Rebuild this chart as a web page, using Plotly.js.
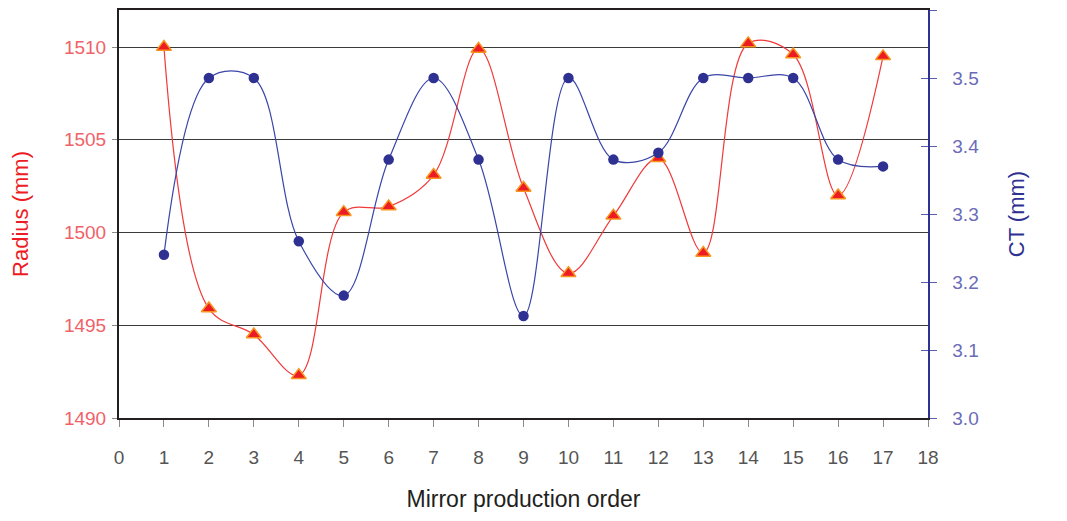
<!DOCTYPE html>
<html>
<head>
<meta charset="utf-8">
<script src="https://cdn.plot.ly/plotly-3.0.1.min.js"></script>
<style>
  html, body { margin: 0; padding: 0; background: #ffffff; }
  #chart { width: 1067px; height: 521px; }
</style>
</head>
<body>
<div id="chart"></div>
<script>
// Mirror production order (category positions)
const order = [1, 2, 3, 4, 5, 6, 7, 8, 9, 10, 11, 12, 13, 14, 15, 16, 17];
// Radius (mm) - left axis, red triangles
const radius = [1510.0, 1495.9, 1494.5, 1492.3, 1501.1, 1501.4, 1503.1, 1509.9, 1502.4,
                1497.8, 1500.9, 1504.0, 1498.9, 1510.2, 1509.6, 1502.0, 1509.5];
// CT (mm) - right axis, blue circles
const ct = [3.24, 3.50, 3.50, 3.26, 3.18, 3.38, 3.50, 3.38, 3.15,
            3.50, 3.38, 3.39, 3.50, 3.50, 3.50, 3.38, 3.37];

const xTitle = 'Mirror production order';
const yTitle = 'Radius (mm)';
const y2Title = 'CT (mm)';

const FONT = 'Liberation Sans, Arial, sans-serif';
const RED = '#ed1c24';
const NAVY = '#2e3192';

const traces = [
  {
    x: order, y: radius, type: 'scatter', mode: 'lines+markers', name: yTitle,
    line: { color: '#f03a3a', width: 1.2, shape: 'spline', smoothing: 1 },
    marker: { symbol: 'triangle-up', size: 13, color: RED, line: { color: '#f7941d', width: 1.5 } },
    yaxis: 'y', cliponaxis: false
  },
  {
    x: order, y: ct, type: 'scatter', mode: 'lines+markers', name: y2Title,
    line: { color: '#3a45a8', width: 1.2, shape: 'spline', smoothing: 1 },
    marker: { symbol: 'circle', size: 10.5, color: NAVY },
    yaxis: 'y2', cliponaxis: false
  },
  { x: [], y: [], type: 'scatter', yaxis: 'y3', showlegend: false, hoverinfo: 'skip' }
];

const layout = {
  width: 1067, height: 521,
  margin: { l: 119, r: 139, t: 10, b: 103 },
  paper_bgcolor: '#ffffff', plot_bgcolor: '#ffffff',
  showlegend: false,
  font: { family: FONT },
  xaxis: {
    range: [0, 18], tick0: 0, dtick: 1, tickmode: 'linear',
    ticks: 'outside', ticklen: 7, tickcolor: '#8a8a8a', tickwidth: 1,
    ticklabelstandoff: 14,
    tickfont: { family: FONT, size: 19, color: '#555555' },
    showline: true, linecolor: '#231f20', linewidth: 2, mirror: true,
    showgrid: false, zeroline: false,
    title: { text: xTitle, font: { family: FONT, size: 23, color: '#231f20' }, standoff: 24 }
  },
  yaxis: {
    range: [1490, 1512], tick0: 1490, dtick: 5, tickmode: 'linear',
    ticks: 'outside', ticklen: 5, tickcolor: '#8a8a8a', tickwidth: 1,
    ticklabelstandoff: 2,
    tickfont: { family: FONT, size: 19, color: '#f06268' },
    showline: true, linecolor: '#231f20', linewidth: 2,
    showgrid: true, gridcolor: '#3a3a3a', gridwidth: 1, zeroline: false,
    title: { text: yTitle, font: { family: FONT, size: 22, color: RED }, standoff: 29 }
  },
  yaxis2: {
    overlaying: 'y', side: 'right', anchor: 'x',
    range: [3.0, 3.6], tick0: 3.0, dtick: 0.1, tickmode: 'linear', tickformat: '.1f',
    ticks: 'outside', ticklen: 7, tickcolor: '#5a5db0', tickwidth: 1,
    ticklabelstandoff: 12,
    tickfont: { family: FONT, size: 19, color: '#6a6cb8' },
    showline: true, linecolor: NAVY, linewidth: 1.5,
    showgrid: false, zeroline: false,
    title: { text: y2Title, font: { family: FONT, size: 22, color: NAVY }, standoff: 30 }
  },
  yaxis3: {
    overlaying: 'y', side: 'right', anchor: 'x',
    range: [3.0, 3.6], tick0: 3.0, dtick: 0.1, tickmode: 'linear',
    ticks: 'inside', ticklen: 7, tickcolor: '#5a5db0', tickwidth: 1,
    showticklabels: false, showline: false, showgrid: false, zeroline: false
  }
};

Plotly.newPlot('chart', traces, layout, { displayModeBar: false, staticPlot: true });
</script>
</body>
</html>
